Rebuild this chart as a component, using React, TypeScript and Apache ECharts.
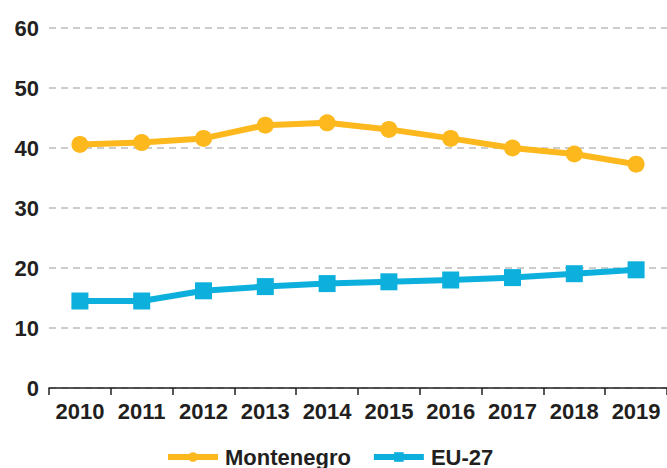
import React, { useEffect, useRef } from "react";
import * as echarts from "echarts";

const years = ["2010", "2011", "2012", "2013", "2014", "2015", "2016", "2017", "2018", "2019"];
const montenegro = [40.6, 40.9, 41.6, 43.8, 44.2, 43.1, 41.6, 40.0, 39.0, 37.3];
const eu27 = [14.5, 14.5, 16.2, 16.9, 17.4, 17.7, 18.0, 18.4, 19.05, 19.7];

const FONT = "Liberation Sans";
const TEXT = "#231f20";
const YELLOW = "#FDB81D";
const BLUE = "#0DB0DC";

export default function App() {
  const ref = useRef<HTMLDivElement>(null);
  useEffect(() => {
    if (!ref.current) return;
    const chart = echarts.init(ref.current, undefined, { renderer: "svg" });
    chart.setOption({
      animation: false,
      backgroundColor: "#ffffff",
      grid: { left: 49, top: 28, width: 622, bottom: 80, containLabel: false },
      legend: {
        left: 160,
        top: 441,
        itemWidth: 50,
        itemHeight: 12,
        itemGap: 20,
        lineStyle: { width: 6 },
        textStyle: { fontFamily: FONT, fontWeight: "bold", fontSize: 22, color: TEXT, padding: [0, 0, 0, 2] },
        data: ["Montenegro", "EU-27"],
      },
      xAxis: {
        type: "category",
        data: years,
        boundaryGap: true,
        axisLine: { lineStyle: { color: "#231f20", width: 1.5 } },
        axisTick: { show: true, length: 7, lineStyle: { color: "#231f20", width: 1.5 } },
        axisLabel: {
          fontFamily: FONT,
          fontWeight: "bold",
          fontSize: 22,
          color: TEXT,
          margin: 12,
          interval: 0,
        },
        splitLine: { show: false },
      },
      yAxis: {
        type: "value",
        min: 0,
        max: 60,
        interval: 10,
        axisLine: { show: false },
        axisTick: { show: false },
        axisLabel: {
          fontFamily: FONT,
          fontWeight: "bold",
          fontSize: 22,
          color: TEXT,
          margin: 10,
        },
        splitLine: {
          show: true,
          lineStyle: { color: "#bcbcbc", width: 1.5, type: [7, 5] },
        },
      },
      series: [
        {
          name: "Montenegro",
          type: "line",
          data: montenegro,
          symbol: "circle",
          symbolSize: 17,
          lineStyle: { color: YELLOW, width: 6 },
          itemStyle: { color: YELLOW },
          z: 3,
        },
        {
          name: "EU-27",
          type: "line",
          data: eu27,
          symbol: "rect",
          symbolSize: 17,
          lineStyle: { color: BLUE, width: 6 },
          itemStyle: { color: BLUE },
          z: 3,
        },
      ],
    });
    return () => chart.dispose();
  }, []);
  return (
    <div
      ref={ref}
      style={{ position: "absolute", left: 0, top: 0, width: 667, height: 468 }}
    />
  );
}
